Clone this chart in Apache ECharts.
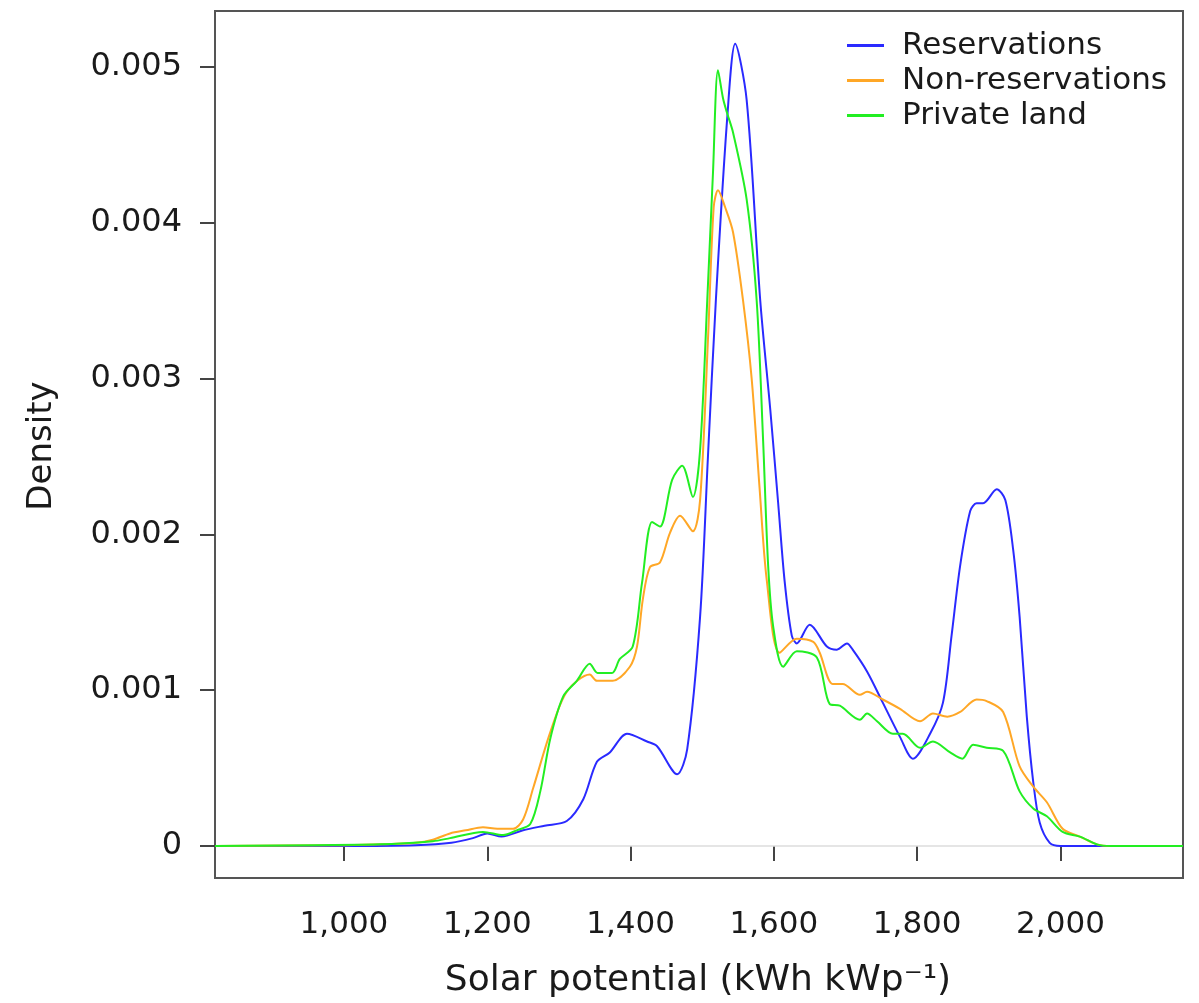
<!DOCTYPE html>
<html>
<head>
<meta charset="utf-8">
<script src="https://cdn.jsdelivr.net/npm/echarts@6/dist/echarts.min.js"></script>
<style>
html,body{margin:0;padding:0;background:#fff;}
#chart{width:1199px;height:1003px;}
</style>
</head>
<body>
<div id="chart"></div>
<script>
// ---- Data ----
const seriesNames = ['Reservations', 'Non-reservations', 'Private land'];

const resX = [820, 1000, 1100, 1150, 1180, 1200, 1220, 1250, 1280, 1311, 1334, 1353, 1371, 1395, 1423, 1437, 1465, 1479, 1497, 1508, 1519, 1535, 1546, 1562, 1581, 1595, 1606, 1615, 1625, 1632, 1650, 1674, 1688, 1702, 1710, 1730, 1752, 1776, 1794, 1818, 1836, 1848, 1860, 1874, 1883, 1892, 1911, 1923, 1934, 1943, 1953, 1962, 1971, 1985, 2000, 2171];
const resY = [0, 0, 0.000005, 0.00002, 0.00005, 0.00008, 0.00006, 0.0001, 0.00013, 0.00016, 0.0003, 0.00054, 0.0006, 0.00072, 0.00067, 0.00064, 0.00046, 0.00062, 0.00147, 0.0025, 0.0035, 0.00468, 0.00515, 0.00479, 0.0035, 0.0028, 0.0022, 0.0017, 0.00135, 0.0013, 0.00142, 0.00128, 0.00126, 0.0013, 0.00126, 0.00112, 0.00092, 0.0007, 0.00056, 0.00072, 0.00092, 0.00135, 0.0018, 0.00215, 0.0022, 0.0022, 0.00229, 0.00222, 0.0019, 0.00147, 0.00083, 0.00041, 0.00015, 0.00002, 0, 0];

const nonX = [820, 1000, 1054, 1100, 1124, 1148, 1170, 1194, 1214, 1236, 1250, 1264, 1288, 1311, 1343, 1353, 1375, 1399, 1409, 1417, 1427, 1441, 1455, 1469, 1487, 1497, 1508, 1516, 1522, 1532, 1543, 1557, 1569, 1580, 1590, 1608, 1632, 1655, 1664, 1682, 1696, 1720, 1730, 1752, 1776, 1804, 1822, 1842, 1860, 1883, 1897, 1920, 1943, 1962, 1981, 2003, 2027, 2051, 2070, 2171];
const nonY = [0, 0.000005, 0.00001, 0.00002, 0.00004, 0.00008, 0.0001, 0.00012, 0.00011, 0.00011, 0.00017, 0.00037, 0.00073, 0.00099, 0.0011, 0.00106, 0.00106, 0.00115, 0.00128, 0.00158, 0.00179, 0.00182, 0.00201, 0.00212, 0.00202, 0.00222, 0.00325, 0.0041, 0.00421, 0.0041, 0.00394, 0.0035, 0.003, 0.0023, 0.00171, 0.00124, 0.00133, 0.00131, 0.00124, 0.00104, 0.00104, 0.00097, 0.00099, 0.00094, 0.00088, 0.0008, 0.00085, 0.00083, 0.00086, 0.00094, 0.00093, 0.00086, 0.00051, 0.00038, 0.00028, 0.00011, 0.00006, 0.00001, 0, 0];

const privX = [820, 1050, 1124, 1148, 1194, 1222, 1241, 1260, 1274, 1288, 1306, 1325, 1343, 1354, 1374, 1385, 1403, 1416, 1430, 1441, 1458, 1472, 1487, 1497, 1507, 1515, 1522, 1529, 1535, 1543, 1562, 1576, 1585, 1592, 1599, 1613, 1632, 1660, 1678, 1692, 1720, 1730, 1744, 1766, 1780, 1804, 1822, 1846, 1863, 1878, 1897, 1920, 1943, 1962, 1981, 2003, 2027, 2051, 2070, 2171];
const privY = [0, 0.00001, 0.00003, 0.00005, 0.00009, 0.00007, 0.0001, 0.00014, 0.00035, 0.00069, 0.00096, 0.00106, 0.00117, 0.00111, 0.00111, 0.0012, 0.00128, 0.00169, 0.00208, 0.00205, 0.00235, 0.00244, 0.00224, 0.00254, 0.0035, 0.00432, 0.00498, 0.0048, 0.0047, 0.00458, 0.00415, 0.0035, 0.0026, 0.0018, 0.00141, 0.00115, 0.00125, 0.00121, 0.00091, 0.0009, 0.00081, 0.00085, 0.0008, 0.00072, 0.00072, 0.00063, 0.00067, 0.0006, 0.00056, 0.00065, 0.00063, 0.00061, 0.00035, 0.00024, 0.00019, 0.00009, 0.00006, 0.00001, 0, 0];

const xTicks = [1000, 1200, 1400, 1600, 1800, 2000];
const yTicks = [0, 0.001, 0.002, 0.003, 0.004, 0.005];
const yTickLabels = ['0', '0.001', '0.002', '0.003', '0.004', '0.005'];

// ---- Build chart ----
function pairs(xs, ys) { return xs.map((x, i) => [x, ys[i]]); }
const colors = ['#2a2aff', '#ffa726', '#22ee22'];
const FONT = '"DejaVu Sans"';
const TXT = '#1a1a1a';

const chart = echarts.init(document.getElementById('chart'), null, { renderer: 'canvas' });

const mkSeries = (name, data, color, extra) => Object.assign({
  name: name,
  type: 'line',
  data: data,
  showSymbol: false,
  smooth: 0.3,
  clip: true,
  lineStyle: { color: color, width: 2 },
  itemStyle: { color: color },
  emphasis: { disabled: true },
  animation: false
}, extra || {});

const option = {
  animation: false,
  backgroundColor: '#fff',
  grid: { left: 215, right: 16, top: 11, bottom: 125, show: true, borderColor: '#555', borderWidth: 2, backgroundColor: 'transparent' },
  xAxis: {
    type: 'value', min: 820, max: 2171,
    axisLine: { show: false },
    splitLine: { show: false },
    axisTick: { show: true, length: 15, inside: false, lineStyle: { color: '#444', width: 2 }, customValues: xTicks },
    axisLabel: { margin: 31, fontFamily: FONT, fontSize: 31, color: TXT, customValues: xTicks,
      formatter: v => v.toLocaleString('en-US') }
  },
  yAxis: {
    type: 'value', min: -0.000206, max: 0.00536,
    axisLine: { show: false },
    splitLine: { show: false },
    axisTick: { show: true, length: 15, inside: false, lineStyle: { color: '#444', width: 2 }, customValues: yTicks },
    axisLabel: { margin: 33, fontFamily: FONT, fontSize: 32, color: TXT, customValues: yTicks,
      formatter: v => { const i = yTicks.findIndex(t => Math.abs(t - v) < 1e-9); return i >= 0 ? yTickLabels[i] : ''; } }
  },
  legend: {
    orient: 'vertical', left: 842, top: 23,
    itemWidth: 37, itemHeight: 3, itemGap: 0, icon: 'rect',
    textStyle: { fontFamily: FONT, fontSize: 31, color: TXT, lineHeight: 35, padding: [0, 0, 0, 13] },
    data: seriesNames
  },
  series: [
    mkSeries(seriesNames[0], pairs(resX, resY), colors[0], {
      markLine: { silent: true, symbol: 'none', label: { show: false }, animation: false,
        lineStyle: { color: '#dddddd', width: 1.5, type: 'solid' }, data: [{ yAxis: 0 }], z: 1 }
    }),
    mkSeries(seriesNames[1], pairs(nonX, nonY), colors[1]),
    mkSeries(seriesNames[2], pairs(privX, privY), colors[2])
  ],
  graphic: [
    { type: 'text', x: 42, y: 446, rotation: Math.PI / 2,
      style: { text: 'Density', font: '34px "DejaVu Sans"', fill: TXT, textAlign: 'center', textVerticalAlign: 'middle' } },
    { type: 'text', x: 698, y: 981,
      style: { text: 'Solar potential (kWh kWp\u207B\u00B9)', font: '36px "DejaVu Sans"', fill: TXT, textAlign: 'center', textVerticalAlign: 'middle' } }
  ]
};
chart.setOption(option);
</script>
</body>
</html>
